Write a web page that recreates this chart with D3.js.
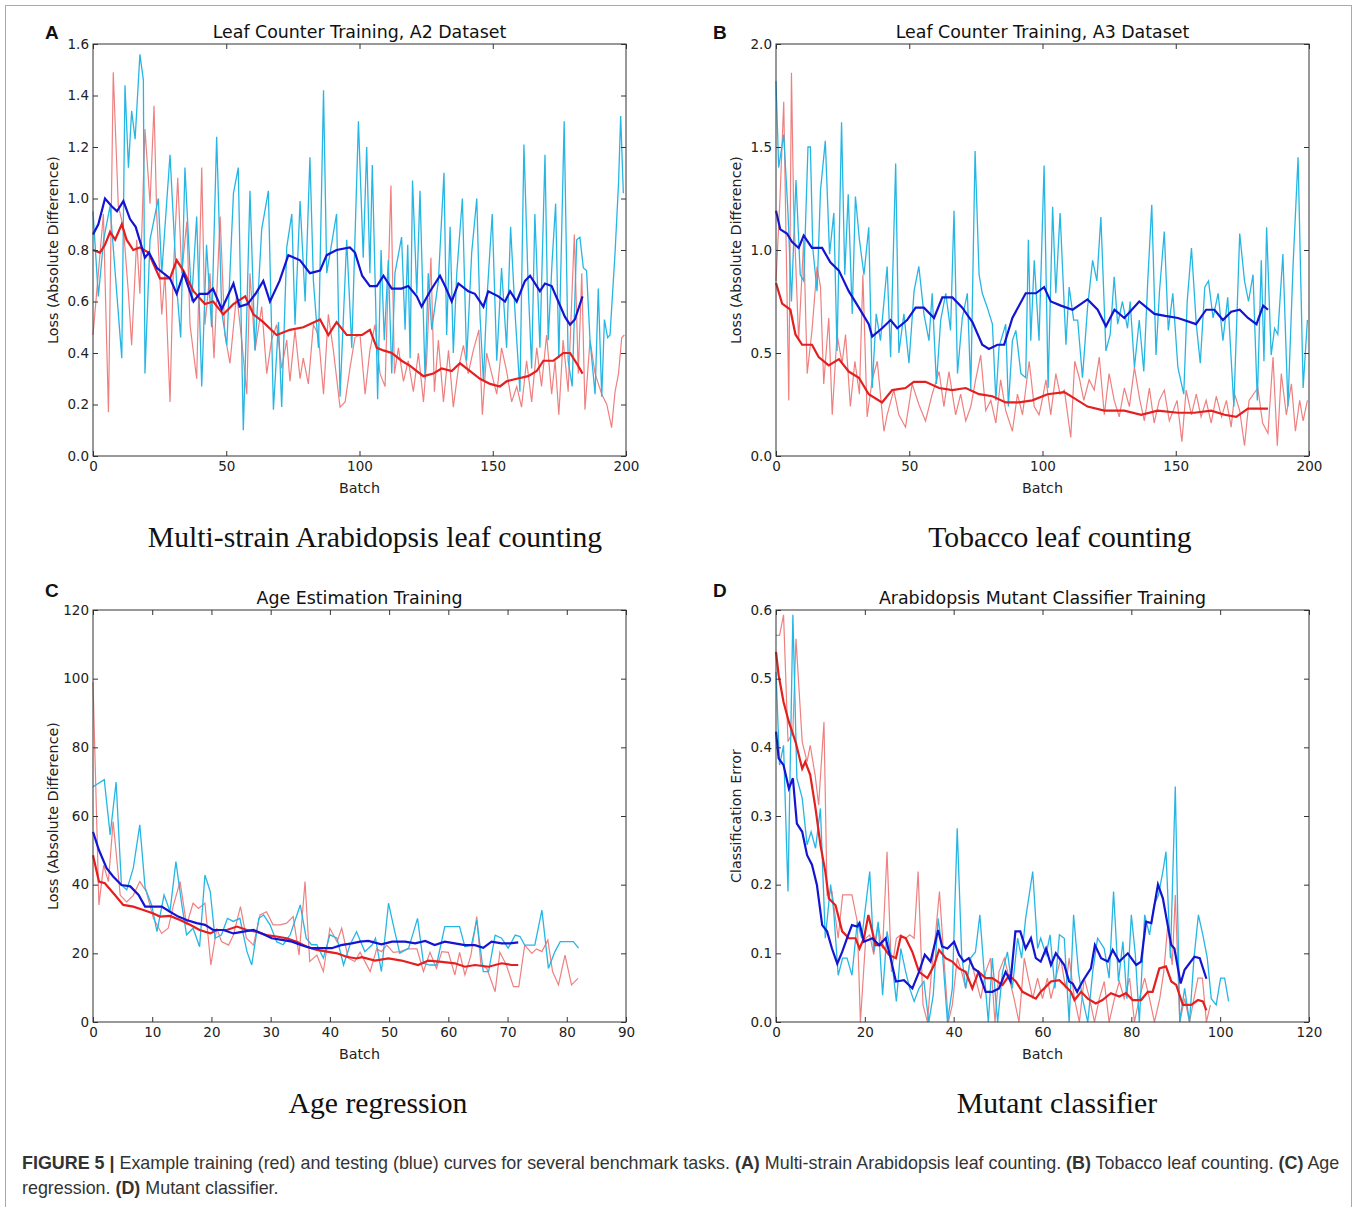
<!DOCTYPE html>
<html>
<head>
<meta charset="utf-8">
<title>Figure 5</title>
<style>
body { margin: 0; background: #fff; }
svg text { font-family: "DejaVu Sans", sans-serif; fill: #222; }
.tick text { font-size: 13.5px; fill: #222; }
.tick line { stroke: #333; }
.title { font-size: 17.4px; fill: #111; }
.axlabel { font-size: 14.3px; }
.sub { font-family: "Liberation Serif", serif; font-size: 29.7px; fill: #111; }
.letter { font-family: "Liberation Sans", Arial, sans-serif; font-weight: bold; font-size: 19px; fill: #111; }
.caption { font-family: "Liberation Sans", Arial, sans-serif; font-size: 17.9px; fill: #333; }
</style>
</head>
<body>
<svg width="1358" height="1207"></svg>
<script src="https://d3js.org/d3.v7.min.js"></script>
<script>
// ---- data: [batch, loss] ----
var aTestRaw = [[0,0.95],[2,0.62],[4,0.84],[6.4,0.97],[10.8,0.38],[12,1.44],[13.3,1.12],[14.5,1.34],[15.8,1.23],[17.6,1.56],[18.9,1.46],[19.5,0.32],[21.4,0.84],[24.5,1.0],[25.8,0.71],[28.9,1.17],[31.6,0.63],[32.9,0.46],[34.5,1.12],[37,0.6],[38.9,0.93],[40.8,0.27],[42.6,0.82],[44.5,0.5],[46.4,1.24],[48.3,0.56],[50.2,0.43],[52.7,1.02],[54.5,1.12],[56.4,0.1],[57.7,0.55],[58.9,1.03],[60.8,0.41],[63.3,0.88],[65.8,1.03],[67.7,0.18],[69.6,0.52],[70.8,0.19],[72.7,0.81],[74.6,0.94],[75.8,0.51],[77.7,0.99],[79.6,0.6],[81.4,1.16],[82.7,0.68],[84.6,0.42],[86.5,1.42],[87.7,0.71],[91.4,0.94],[92.7,0.23],[95.2,0.84],[97.1,0.42],[99.6,1.3],[101.4,0.77],[102.7,1.2],[103.9,0.71],[104.8,1.13],[106.1,0.58],[106.8,0.22],[108.1,0.8],[109.3,0.45],[110.8,0.76],[112.1,0.32],[113.3,0.71],[115.8,0.85],[117.1,0.49],[118.1,0.82],[119,0.38],[119.9,1.07],[121.5,0.63],[122.7,1.03],[124.6,0.3],[125.8,0.71],[127.1,0.49],[129.6,0.68],[131.7,1.1],[132.7,0.47],[134,0.89],[135.2,0.4],[136.5,0.71],[138.6,1.0],[140.2,0.37],[142.1,0.79],[144,1.0],[145.2,0.55],[146.5,0.29],[147.7,0.59],[149.8,0.94],[151.5,0.37],[153.3,0.73],[155.2,0.42],[156.7,0.89],[158.4,0.55],[160.2,0.25],[161.7,1.21],[163.3,0.66],[164.6,0.34],[165.8,0.94],[167.7,0.42],[169.6,1.17],[170.8,0.45],[172.3,0.76],[173.6,0.98],[174.8,0.38],[176.8,1.3],[178.3,0.37],[179.8,0.27],[181.5,0.84],[182.7,0.85],[184,0.73],[185.2,0.72],[186.5,0.45],[188.4,0.24],[189.6,0.65],[190.9,0.23],[191.9,0.53],[193.1,0.46],[194,0.47],[195.9,0.79],[197.2,1.06],[198,1.32],[199,1.02]];
var aTrainRaw = [[0,0.47],[2,0.71],[3.9,0.94],[5.8,0.17],[7.6,1.49],[9.5,0.97],[11.4,0.89],[13.3,0.63],[14.5,0.43],[16.4,0.84],[17.6,0.63],[19.5,1.27],[21.4,0.98],[22.9,1.36],[23.9,0.94],[25.8,0.55],[27,0.71],[28.9,0.21],[30.1,0.71],[31.8,1.08],[33.3,0.71],[35.2,0.91],[36.4,0.51],[38.9,0.3],[40.8,1.12],[42,0.51],[43.9,0.71],[45.4,0.38],[47.7,0.93],[49.5,0.47],[51.4,0.36],[53.9,0.63],[55.8,0.45],[57.7,0.24],[58.9,0.71],[60.8,0.41],[63.3,0.58],[65.2,0.32],[67,0.45],[68.9,0.51],[70.8,0.34],[72.7,0.45],[73.9,0.29],[75.8,0.49],[77.7,0.3],[78.9,0.38],[80.8,0.28],[82.7,0.51],[84.6,0.47],[86.5,0.24],[88.3,0.55],[90.2,0.41],[92.7,0.19],[94.6,0.21],[96.4,0.34],[98.3,0.46],[100.2,0.47],[102.1,0.24],[103.9,0.41],[105.8,0.51],[107.7,0.32],[109.6,0.27],[111.8,1.05],[113.1,0.32],[114.6,0.42],[116.5,0.29],[118.3,0.37],[120.2,0.25],[122.1,0.4],[124,0.21],[125.2,0.37],[126.8,0.77],[128.1,0.25],[129.6,0.45],[131.5,0.21],[133.4,0.41],[135.2,0.19],[137.1,0.34],[139,0.43],[140.8,0.32],[142.7,0.41],[144.8,0.49],[146.1,0.16],[147.7,0.4],[149.6,0.32],[151.5,0.24],[153.3,0.42],[155.2,0.33],[157.1,0.21],[159,0.27],[160.8,0.19],[162.7,0.37],[164.6,0.21],[166.5,0.42],[168.3,0.27],[170.2,0.47],[172.1,0.24],[173.4,0.37],[174.8,0.16],[176.4,0.45],[178.3,0.25],[180.6,0.86],[182.1,0.32],[183.4,0.71],[184.6,0.18],[186.5,0.45],[188.4,0.32],[190.9,0.24],[192.8,0.2],[194.6,0.11],[195.9,0.25],[197.2,0.32],[198.4,0.46],[199.4,0.47]];
var aTestAvg = [[0,0.86],[2,0.9],[4.5,1.0],[7,0.97],[9,0.95],[11.4,0.99],[13.9,0.92],[16,0.89],[19.5,0.77],[21,0.79],[24,0.73],[28.9,0.69],[31.4,0.63],[34,0.71],[37.7,0.6],[40,0.63],[43,0.63],[45,0.65],[48.3,0.57],[52.7,0.67],[55,0.58],[58,0.59],[61,0.63],[63.9,0.68],[66.4,0.6],[70,0.68],[73.3,0.78],[77.7,0.76],[81.4,0.71],[85.2,0.72],[87.7,0.78],[91.4,0.8],[96.4,0.81],[98.3,0.79],[101,0.7],[103.9,0.66],[106.5,0.66],[109,0.7],[112.1,0.65],[115.8,0.65],[118.3,0.66],[121.5,0.62],[123.3,0.58],[126.5,0.64],[130.2,0.7],[132.1,0.66],[134.6,0.6],[137.1,0.67],[140.8,0.64],[143.3,0.63],[146.5,0.58],[148.3,0.64],[152.1,0.62],[154.6,0.6],[156.5,0.64],[159,0.6],[162.1,0.68],[164,0.7],[167.7,0.64],[169.6,0.67],[172.1,0.66],[174.6,0.6],[177.1,0.54],[179,0.51],[180.8,0.53],[183.7,0.62]];
var aTrainAvg = [[0,0.8],[2.6,0.79],[4.5,0.82],[6.4,0.87],[8.3,0.84],[10.8,0.9],[12.6,0.84],[15.1,0.8],[17.6,0.81],[20.8,0.79],[25.1,0.69],[28.9,0.69],[31.4,0.76],[33.9,0.72],[37.7,0.64],[42,0.59],[45.1,0.6],[48.9,0.55],[52.7,0.59],[57.1,0.62],[60.2,0.55],[63.9,0.52],[68.9,0.47],[73.9,0.49],[78.9,0.5],[85.2,0.53],[88.3,0.47],[91.4,0.52],[95.2,0.47],[98.3,0.47],[101,0.47],[103.9,0.49],[106.5,0.42],[109,0.41],[112.1,0.4],[115.8,0.37],[119,0.35],[121.5,0.33],[124,0.31],[127.7,0.32],[130.8,0.34],[134.6,0.33],[137.7,0.36],[141.5,0.33],[145.2,0.3],[149,0.28],[152.7,0.27],[155.2,0.29],[159,0.3],[163.3,0.31],[166.5,0.33],[169,0.37],[172.8,0.37],[176.5,0.4],[179,0.4],[181.5,0.36],[183.7,0.32]];

var bTestRaw = [[0,1.82],[1,1.4],[2.9,1.56],[4.5,1.18],[5.8,0.75],[7.5,1.34],[9.1,0.88],[10.4,0.85],[12,1.5],[12.9,1.5],[13.8,1.01],[15.4,0.8],[16.7,1.29],[18.5,1.53],[20.1,0.98],[21.7,1.18],[22.9,0.51],[24.6,1.62],[25.8,0.88],[27.1,1.27],[28.6,0.69],[29.8,1.26],[31.3,1.05],[33,0.88],[34.8,1.11],[36.1,0.33],[37.6,0.69],[39.2,0.56],[41.7,0.92],[43,0.48],[44.9,1.42],[46.1,0.5],[48,0.69],[49.9,0.45],[51.8,0.8],[53.6,0.92],[55.5,0.69],[57.4,0.56],[58.6,0.79],[60.2,0.35],[61.8,0.66],[63.7,0.79],[65.5,0.61],[66.8,1.19],[68.1,0.4],[69.9,0.67],[71.8,0.79],[73.1,0.32],[74.7,1.48],[76.2,0.88],[77.4,0.79],[79.3,0.72],[81.2,0.64],[82.5,0.27],[83.7,0.53],[86.2,0.64],[87.2,0.24],[88.7,0.56],[90,0.61],[91.9,0.4],[93.7,0.38],[94.7,1.05],[95.6,0.56],[96.9,0.95],[98.7,0.56],[100.6,1.41],[102.1,0.33],[103.8,1.21],[105,0.79],[106.6,1.18],[108.8,0.54],[110,0.82],[111.7,0.66],[113.2,0.66],[115,0.38],[116.9,0.72],[118.8,0.95],[120.4,0.85],[121.9,1.16],[123.8,0.51],[125.4,0.59],[126.9,0.87],[128.2,0.64],[130,0.75],[131.9,0.62],[132.9,0.75],[134.5,0.43],[136.3,0.66],[138,0.41],[139.5,0.85],[141,1.22],[142.6,0.49],[143.9,0.8],[145.7,1.09],[147.2,0.61],[148.9,0.79],[150.8,0.43],[153,0.3],[154.3,0.75],[155.9,1.01],[157.7,0.64],[159.2,0.45],[160.9,0.82],[162.3,0.85],[164,0.67],[165.9,0.79],[167.7,0.56],[169.5,0.77],[171.8,0.24],[174,1.08],[175.8,0.85],[177.3,0.75],[179,0.88],[180.6,0.27],[182.1,0.95],[183.1,0.46],[184.1,1.11],[185.8,0.49],[187.1,0.62],[188.3,0.59],[190.2,0.98],[192.1,0.24],[194,0.92],[195.9,1.45],[197.8,0.33],[199.4,0.66]];
var bTrainRaw = [[0,0.85],[1.5,1.25],[2.9,1.72],[4.8,0.27],[5.8,1.86],[6.6,1.21],[8.5,0.56],[10.4,1.05],[11.7,0.4],[13.5,0.61],[15.4,0.92],[16.7,0.82],[17.9,0.35],[19.8,0.67],[21.1,0.2],[22.9,0.59],[24.8,0.45],[26.1,0.59],[27.9,0.24],[29.6,0.46],[31.3,0.3],[32.6,0.88],[34.2,0.19],[36.1,0.37],[38,0.46],[40.5,0.12],[41.7,0.2],[44.2,0.32],[46.1,0.2],[48.6,0.14],[51.1,0.35],[53.6,0.25],[56.1,0.17],[58.6,0.3],[61.2,0.41],[63,0.24],[64.9,0.41],[67.4,0.2],[69.3,0.3],[71.2,0.17],[73.1,0.24],[74.9,0.37],[76.8,0.49],[78.7,0.22],[80.6,0.27],[82.5,0.16],[84.3,0.37],[86.2,0.22],[88.7,0.12],[90.6,0.3],[92.5,0.2],[95,0.46],[96.9,0.24],[98.7,0.2],[99.4,0.24],[101.3,0.37],[103.1,0.2],[105,0.4],[106.6,0.3],[108.2,0.32],[110.6,0.09],[112.1,0.46],[113.8,0.38],[115.5,0.27],[117.5,0.37],[119.4,0.32],[121.3,0.48],[123.2,0.2],[125,0.4],[126.9,0.27],[128.8,0.19],[130.7,0.33],[132.6,0.24],[134.5,0.43],[136.4,0.28],[138.2,0.17],[140.1,0.33],[141.9,0.16],[143.8,0.27],[145.7,0.32],[147.6,0.17],[150.5,0.27],[152.3,0.07],[153.9,0.32],[155.9,0.2],[157.7,0.3],[159.5,0.19],[161.4,0.27],[163.3,0.16],[165.2,0.29],[167.2,0.19],[169,0.27],[170.8,0.14],[172.1,0.3],[174,0.22],[175.8,0.05],[177.5,0.27],[180.8,0.33],[182.6,0.16],[184.6,0.11],[186.5,0.48],[188.1,0.05],[189.6,0.4],[191.5,0.2],[193.4,0.35],[194.9,0.12],[196.5,0.27],[197.8,0.17],[199.4,0.27]];
var bTestAvg = [[0,1.19],[1.6,1.1],[4.1,1.08],[6,1.04],[8.5,1.01],[10.4,1.07],[13.5,1.01],[17.3,1.01],[20.4,0.94],[23.6,0.9],[27.3,0.8],[31.1,0.72],[34.8,0.64],[36.1,0.58],[39.8,0.62],[43,0.66],[45.5,0.62],[49.2,0.66],[52.4,0.72],[55.5,0.72],[59.3,0.67],[62.4,0.77],[66.2,0.77],[69.9,0.72],[73.7,0.65],[77.4,0.54],[79.9,0.52],[83.1,0.54],[85.6,0.54],[88.7,0.67],[93.7,0.79],[97.5,0.79],[100.6,0.82],[103.1,0.75],[106.9,0.73],[111.3,0.71],[116.9,0.76],[120.7,0.71],[123.8,0.63],[127,0.71],[130.7,0.67],[136.3,0.75],[142,0.69],[146,0.68],[150.8,0.67],[157.6,0.64],[161.4,0.71],[164.5,0.71],[167.7,0.66],[170.8,0.7],[174,0.71],[177.1,0.67],[180.3,0.64],[182.8,0.73],[184.6,0.71]];
var bTrainAvg = [[0,0.84],[2.3,0.74],[5.4,0.71],[7.3,0.59],[9.8,0.54],[13.5,0.54],[16,0.48],[19.8,0.44],[23.6,0.47],[27.3,0.41],[31.1,0.38],[34.8,0.3],[39.8,0.26],[43.6,0.32],[48.6,0.33],[51.7,0.36],[56.1,0.36],[61.2,0.33],[66.2,0.32],[71.2,0.33],[76.2,0.3],[81.2,0.29],[86.2,0.26],[91.2,0.26],[96.2,0.27],[101.9,0.3],[108.2,0.31],[112,0.28],[116.9,0.24],[123.2,0.22],[130.7,0.22],[137,0.2],[143.2,0.22],[150.8,0.21],[157,0.21],[163.3,0.22],[168.3,0.2],[172.7,0.19],[177.1,0.23],[180.5,0.23],[184.6,0.23]];

var cTestRaw = [[0,68.5],[1.9,70.6],[2.9,54.5],[3.9,69.9],[4.8,39.9],[5.7,38.5],[6.8,44.8],[7.9,57.4],[8.8,39],[9.9,34.1],[10.8,26.3],[12,37],[13,32.2],[14,46.7],[15,34.1],[15.8,25.4],[16.9,27.3],[18,21.9],[18.9,42.8],[19.8,38],[20.6,24.4],[21.7,25.4],[22.7,30.2],[23.7,29.3],[24.8,30.2],[26,20.5],[26.8,16.6],[28,30.2],[28.8,31.2],[29.9,28.3],[31,23.4],[32.1,22.5],[33.3,25.4],[35,34.1],[36,24.4],[36.9,22.5],[37.8,22.5],[38.9,18.6],[40,25.4],[41.2,24.4],[42.3,16.6],[43.4,22.5],[44.5,26.3],[45.9,20.5],[47.1,22.4],[47.7,24.4],[48.7,14.7],[49.9,34.6],[50.7,28.3],[51.8,20],[53.3,21.5],[54.8,30.2],[55.8,17.1],[56.9,16.6],[58,16.6],[59.4,27.8],[60.6,27.8],[61.9,27.8],[62.8,21.9],[63.9,22.4],[64.8,29.7],[65.9,14.7],[66.8,14.7],[67.9,25.3],[69,24.4],[70.1,21.5],[71.3,25.3],[72.1,24.9],[72.9,22.4],[74.6,22.4],[75.8,32.6],[76.9,15.6],[78,20.5],[78.9,23.4],[80.3,23.4],[81.1,23.4],[82,21.5]];
var cTrainRaw = [[0,99],[1,34.1],[1.8,45.7],[2.6,40.9],[3.4,58.4],[4.6,36.9],[5.7,35],[6.8,36.9],[7.9,40.9],[9,38],[10.2,30.2],[11.6,25.8],[12.7,27.3],[13.6,34.1],[14.7,40.9],[15.8,28.3],[16.9,34.6],[17.8,33.1],[18.9,34.6],[19.9,16.6],[20.9,27.3],[21.7,23.4],[22.9,22.4],[23.7,25.3],[24.9,33.6],[25.9,24.4],[27.1,22.4],[28.2,31.2],[29.3,32.1],[30.4,28.3],[31.6,28.3],[32.7,28.8],[33.8,30.7],[34.8,19.5],[35.8,40.9],[36.6,17.6],[37.8,19.5],[38.9,14.7],[40,27.3],[41.2,23.4],[42,27.3],[43.1,18.6],[44.2,17.6],[45.1,20.3],[46.8,14.7],[47.9,21.3],[48.7,20.5],[49.6,22.4],[50.7,20.3],[51.8,20.5],[53.3,21.3],[54.7,21.3],[55.8,14.7],[56.9,20.3],[58,15.6],[58.9,20.5],[60,20.3],[61.1,13.7],[61.9,20.3],[62.8,13.7],[63.8,19.3],[64.8,30.7],[65.5,16.6],[66.5,15.6],[67.9,8.8],[68.7,20.3],[69.8,16.6],[71,10.3],[71.9,10.3],[72.9,22.4],[74.1,20],[74.9,21.3],[75.8,20.5],[76.8,23.9],[77.6,14.7],[78.6,10.8],[79.7,19.5],[80.8,10.8],[81.9,12.7]];
var cTestAvg = [[0,55.4],[1,50.1],[2.3,44.8],[3.4,42.4],[4.8,39.9],[6.3,39.5],[7.7,37],[8.8,33.6],[10.5,33.6],[11.6,33.6],[13,32.1],[14.4,30.7],[15.8,29.7],[17.5,28.8],[18.9,28.3],[20.3,26.8],[22,26.8],[23.7,25.8],[25.4,26.3],[27.1,26.8],[28.5,25.8],[30.2,24.4],[31.9,23.9],[33.6,23.4],[35.2,22.4],[36.9,21.5],[38.6,21.5],[40.3,21.5],[41.9,22.4],[43.7,22.9],[45.1,23.4],[46.5,23.6],[48.7,22.6],[50.5,23.4],[52.7,23.4],[54.4,22.9],[56.1,23.6],[57.7,22.4],[59.4,23.4],[61.1,22.9],[62.8,22.4],[64.5,22.4],[65.9,21.6],[67.3,23.4],[69,22.9],[70.4,22.9],[71.8,23.2]];
var cTrainAvg = [[0,48.6],[1,40.9],[2,40.4],[3.7,37],[5.1,34.1],[6.8,33.6],[8.5,32.6],[10.2,31.6],[11.3,30.7],[13,30.9],[14.7,29.7],[16.4,28.3],[18,26.8],[19.8,25.8],[20.9,26.8],[22.6,26.8],[24.3,27.8],[26,26.8],[27.6,26.3],[29.3,25.3],[31,24.9],[32.7,24.4],[34.4,23.4],[36.1,21.9],[37.8,21],[39.5,20.5],[41.2,20],[42.8,19],[44.5,18.5],[45.4,18.9],[47.6,17.9],[49.9,18.5],[52.1,17.9],[54.9,16.6],[56.6,17.9],[58.9,17.5],[61.1,17.1],[62.8,16.1],[64.5,16.6],[66.8,16.1],[69,17.1],[70.7,16.6],[71.8,16.6]];

var dTestRaw = [[0,0.51],[0.8,0.374],[1.7,0.403],[2.7,0.19],[3.8,0.593],[4.7,0.355],[5.9,0.326],[7,0.258],[7.9,0.277],[8.9,0.253],[10,0.311],[11.1,0.122],[12.3,0.2],[13,0.161],[14,0.068],[15,0.093],[16,0.093],[17.1,0.068],[18.3,0.146],[19.3,0.122],[20.2,0.17],[21.1,0.219],[22,0.102],[23,0.146],[24,0.039],[25,0.132],[26,0.093],[27.1,0.03],[28.1,0.107],[29.2,0.073],[30.1,0.049],[31.1,0.03],[32.2,0.049],[33.3,0.059],[34.4,0],[35.4,0.039],[36.5,0.151],[37.4,0.107],[38.6,0],[39.7,0.049],[40.8,0.282],[41.8,0.098],[42.7,0.049],[43.8,0.093],[44.9,0.102],[45.9,0.156],[46.8,0.078],[47.8,0],[48.7,0.093],[49.9,0],[51,0.073],[52.1,0.102],[53.2,0.049],[54.4,0.122],[55.3,0.093],[56.2,0.151],[57.8,0.219],[58.9,0.107],[59.6,0.122],[60.8,0.098],[61.7,0.127],[62.8,0.049],[63.8,0.127],[64.9,0.122],[66,0],[67,0.156],[68.1,0.073],[69,0.034],[70.2,0],[71.3,0.073],[72.4,0.122],[73.9,0.107],[75,0.064],[76,0.19],[77.1,0.059],[78.1,0.117],[79,0.034],[80,0.156],[80.9,0.098],[81.8,0],[83,0.156],[84.1,0.127],[85.1,0.17],[86.1,0.185],[87.1,0.219],[87.8,0.248],[88.8,0.093],[89.9,0.343],[90.9,0],[92,0.049],[93.1,0],[94.1,0.093],[95.1,0.156],[96.1,0.127],[97.1,0.093],[98,0.034],[99.1,0.025],[100.1,0.064],[101,0.064],[101.9,0.03]];
var dTrainRaw = [[0,0.563],[0.8,0.563],[1.7,0.593],[2.7,0.408],[3.8,0.423],[4.5,0.558],[5.9,0.408],[7,0.379],[7.7,0.403],[8.8,0.36],[9.6,0.316],[10.8,0.437],[11.5,0.185],[12.6,0.19],[14,0.122],[15,0.185],[16.2,0.185],[17.1,0.185],[18.3,0.146],[19,0],[20.2,0.122],[21.1,0.127],[22,0.098],[23,0.141],[24,0.107],[25,0.248],[26,0.073],[27.1,0.122],[28.1,0.127],[29.2,0.122],[30.1,0.127],[31.1,0.122],[32,0.219],[33.1,0.025],[34.1,0],[35,0.073],[35.9,0.127],[36.8,0.19],[37.8,0.093],[38.8,0],[39.7,0.025],[40.8,0.093],[41.8,0.073],[42.7,0.049],[43.8,0.093],[44.9,0.064],[46.1,0.034],[47.2,0.073],[48.3,0.093],[49.3,0],[50.2,0.073],[51.4,0.093],[52.5,0.064],[53.6,0.034],[54.7,0],[55.9,0.093],[56.8,0.064],[57.8,0.034],[58.9,0.064],[60,0.034],[61.1,0.064],[61.9,0.034],[63,0.064],[64.1,0.093],[65.2,0.049],[66,0.093],[67.2,0.034],[68.3,0],[69.4,0.064],[70.6,0.034],[71.7,0],[72.8,0.034],[73.9,0.059],[75,0],[76.2,0.034],[77.3,0.059],[78.4,0.034],[79.6,0.064],[80.7,0],[81.8,0.034],[83,0.064],[84.1,0.034],[85.2,0],[86.4,0.034],[87.3,0.073],[88.2,0.141],[89.2,0.083],[89.9,0.185],[90.9,0],[92,0.034],[93.1,0],[94.1,0.034],[95,0.064],[96,0.064],[96.9,0],[97.8,0.025]];
var dTestAvg = [[0,0.423],[0.6,0.384],[1.7,0.374],[2.9,0.34],[3.8,0.355],[4.7,0.289],[5.9,0.277],[7,0.243],[8.1,0.229],[9.2,0.2],[10.4,0.141],[11.5,0.132],[12.6,0.107],[13.8,0.085],[14.9,0.102],[16,0.122],[17.1,0.141],[18.3,0.139],[18.8,0.144],[19.8,0.117],[21.7,0.122],[23.2,0.112],[24.7,0.122],[25.8,0.093],[27,0.059],[28.8,0.061],[30.7,0.049],[32.2,0.073],[33.5,0.098],[34.8,0.088],[36.5,0.134],[37.4,0.11],[38.6,0.107],[40.1,0.117],[41.2,0.098],[42.3,0.088],[43.4,0.093],[44.5,0.078],[45.6,0.073],[47.2,0.044],[48.7,0.044],[50.2,0.049],[51.7,0.073],[52.8,0.059],[53.9,0.132],[55,0.132],[56.2,0.107],[57.4,0.122],[58.5,0.093],[59.6,0.088],[60.8,0.107],[61.9,0.083],[63,0.1],[64.9,0.083],[66,0.059],[66.8,0.056],[67.8,0.044],[69,0.059],[70.9,0.078],[71.8,0.112],[73.2,0.093],[74.7,0.088],[75.8,0.105],[77.3,0.088],[79.2,0.1],[81.1,0.083],[82.2,0.088],[83.3,0.146],[84.5,0.144],[86,0.2],[87.1,0.18],[89,0.112],[89.7,0.107],[91.1,0.056],[92,0.076],[94.2,0.095],[95.4,0.093],[96.9,0.063]];
var dTrainAvg = [[0,0.539],[0.6,0.505],[1.7,0.466],[2.9,0.437],[4.4,0.408],[5.9,0.369],[6.6,0.379],[7.7,0.36],[8.9,0.311],[10,0.258],[11.1,0.219],[11.9,0.18],[13.4,0.17],[14.9,0.132],[16.4,0.122],[17.9,0.122],[18.8,0.107],[19.8,0.122],[20.8,0.156],[22.4,0.112],[23.9,0.112],[25.4,0.098],[27,0.093],[28.1,0.125],[29.2,0.122],[30.7,0.102],[32.2,0.073],[34.1,0.064],[35.6,0.083],[36.7,0.105],[38.2,0.093],[39.7,0.088],[41.2,0.078],[42.7,0.073],[44.2,0.049],[45.6,0.073],[47.2,0.064],[48.7,0.064],[51,0.054],[52.5,0.068],[54,0.059],[55.5,0.044],[57,0.039],[58.5,0.034],[59.6,0.044],[60.4,0.049],[61.9,0.059],[63.8,0.061],[64.9,0.054],[66.4,0.044],[67.2,0.032],[68.7,0.044],[70.2,0.034],[72,0.027],[73.5,0.032],[75.4,0.042],[77.3,0.037],[78.8,0.042],[80.3,0.032],[82.2,0.032],[83.7,0.044],[84.8,0.044],[86.3,0.078],[87.8,0.081],[89,0.059],[90.1,0.054],[91.6,0.025],[93.5,0.025],[95,0.032],[96.1,0.03],[96.9,0.017]];

// tick values
var aXTicks = [0, 50, 100, 150, 200], aYTicks = [0, 0.2, 0.4, 0.6, 0.8, 1.0, 1.2, 1.4, 1.6];
var bXTicks = [0, 50, 100, 150, 200], bYTicks = [0, 0.5, 1.0, 1.5, 2.0];
var cXTicks = [0, 10, 20, 30, 40, 50, 60, 70, 80, 90], cYTicks = [0, 20, 40, 60, 80, 100, 120];
var dXTicks = [0, 20, 40, 60, 80, 100, 120], dYTicks = [0, 0.1, 0.2, 0.3, 0.4, 0.5, 0.6];

var svg = d3.select("svg");

svg.append("rect")
    .attr("x", 5.5).attr("y", 5.5)
    .attr("width", 1346).attr("height", 1215)
    .attr("fill", "none").attr("stroke", "#aaa");

var panels = [
    { letter: "A", lx: 45, ly: 39, title: "Leaf Counter Training, A2 Dataset", left: 93, top: 44,
      xt: aXTicks, yt: aYTicks, yfmt: ".1f", ylab: "Loss (Absolute Difference)",
      sub: "Multi-strain Arabidopsis leaf counting", subX: 375, subY: 547,
      trainRaw: aTrainRaw, testRaw: aTestRaw, trainAvg: aTrainAvg, testAvg: aTestAvg },
    { letter: "B", lx: 713, ly: 39, title: "Leaf Counter Training, A3 Dataset", left: 776, top: 44,
      xt: bXTicks, yt: bYTicks, yfmt: ".1f", ylab: "Loss (Absolute Difference)",
      sub: "Tobacco leaf counting", subX: 1060, subY: 547,
      trainRaw: bTrainRaw, testRaw: bTestRaw, trainAvg: bTrainAvg, testAvg: bTestAvg },
    { letter: "C", lx: 45, ly: 597, title: "Age Estimation Training", left: 93, top: 610,
      xt: cXTicks, yt: cYTicks, yfmt: "d", ylab: "Loss (Absolute Difference)",
      sub: "Age regression", subX: 378, subY: 1113,
      trainRaw: cTrainRaw, testRaw: cTestRaw, trainAvg: cTrainAvg, testAvg: cTestAvg },
    { letter: "D", lx: 713, ly: 597, title: "Arabidopsis Mutant Classifier Training", left: 776, top: 610,
      xt: dXTicks, yt: dYTicks, yfmt: ".1f", ylab: "Classification Error",
      sub: "Mutant classifier", subX: 1057, subY: 1113,
      trainRaw: dTrainRaw, testRaw: dTestRaw, trainAvg: dTrainAvg, testAvg: dTestAvg }
];

var W = 533, H = 412;

panels.forEach(function(p) {
    var x = d3.scaleLinear()
        .domain([0, d3.max(p.xt)])
        .range([p.left, p.left + W]);
    var y = d3.scaleLinear()
        .domain([0, d3.max(p.yt)])
        .range([p.top + H, p.top]);

    var g = svg.append("g");

    var line = d3.line()
        .x(function(d) { return x(d[0]); })
        .y(function(d) { return y(d[1]); });

    // raw curves first, smoothed ones on top
    g.append("path").datum(p.trainRaw)
        .attr("d", line).attr("fill", "none")
        .attr("stroke", "#ef8080").attr("stroke-width", 1.2);
    g.append("path").datum(p.testRaw)
        .attr("d", line).attr("fill", "none")
        .attr("stroke", "#26b6e4").attr("stroke-width", 1.3);
    g.append("path").datum(p.trainAvg)
        .attr("d", line).attr("fill", "none")
        .attr("stroke", "#e41f1f").attr("stroke-width", 2.2);
    g.append("path").datum(p.testAvg)
        .attr("d", line).attr("fill", "none")
        .attr("stroke", "#1414d2").attr("stroke-width", 2.2);

    // frame
    g.append("rect")
        .attr("x", p.left).attr("y", p.top)
        .attr("width", W).attr("height", H)
        .attr("fill", "none").attr("stroke", "#333").attr("stroke-width", 1);

    // ticks on all four sides, pointing in
    g.append("g").attr("transform", "translate(0," + (p.top + H) + ")")
        .call(d3.axisBottom(x).tickValues(p.xt).tickSizeInner(-5).tickSizeOuter(0).tickPadding(5))
        .call(function(a) { a.select(".domain").remove(); });
    g.append("g").attr("transform", "translate(0," + p.top + ")")
        .call(d3.axisTop(x).tickValues(p.xt).tickSizeInner(-5).tickSizeOuter(0).tickFormat(""))
        .call(function(a) { a.select(".domain").remove(); });
    g.append("g").attr("transform", "translate(" + p.left + ",0)")
        .call(d3.axisLeft(y).tickValues(p.yt).tickSizeInner(-5).tickSizeOuter(0).tickPadding(4).tickFormat(d3.format(p.yfmt)))
        .call(function(a) { a.select(".domain").remove(); });
    g.append("g").attr("transform", "translate(" + (p.left + W) + ",0)")
        .call(d3.axisRight(y).tickValues(p.yt).tickSizeInner(-5).tickSizeOuter(0).tickFormat(""))
        .call(function(a) { a.select(".domain").remove(); });

    g.selectAll(".tick text").attr("font-family", null).attr("font-size", null);

    g.append("text").attr("class", "title")
        .attr("x", p.left + W / 2).attr("y", p.top - 6)
        .attr("text-anchor", "middle").text(p.title);

    g.append("text").attr("class", "axlabel")
        .attr("x", p.left + W / 2).attr("y", p.top + H + 37)
        .attr("text-anchor", "middle").text("Batch");

    g.append("text").attr("class", "axlabel")
        .attr("transform", "translate(" + (p.left - 35) + "," + (p.top + H / 2) + ") rotate(-90)")
        .attr("text-anchor", "middle").text(p.ylab);

    g.append("text").attr("class", "letter")
        .attr("x", p.lx).attr("y", p.ly).text(p.letter);

    g.append("text").attr("class", "sub")
        .attr("x", p.subX).attr("y", p.subY)
        .attr("text-anchor", "middle").text(p.sub);
});

// caption
var captionLines = [
    [["FIGURE 5 |", true], [" Example training (red) and testing (blue) curves for several benchmark tasks. ", false],
     ["(A)", true], [" Multi-strain Arabidopsis leaf counting. ", false], ["(B)", true],
     [" Tobacco leaf counting. ", false], ["(C)", true], [" Age", false]],
    [["regression. ", false], ["(D)", true], [" Mutant classifier.", false]]
];
captionLines.forEach(function(parts, i) {
    var t = svg.append("text").attr("class", "caption")
        .attr("x", 22).attr("y", 1169 + i * 25);
    parts.forEach(function(part) {
        t.append("tspan")
            .attr("font-weight", part[1] ? "bold" : null)
            .text(part[0]);
    });
});
</script>
</body>
</html>
